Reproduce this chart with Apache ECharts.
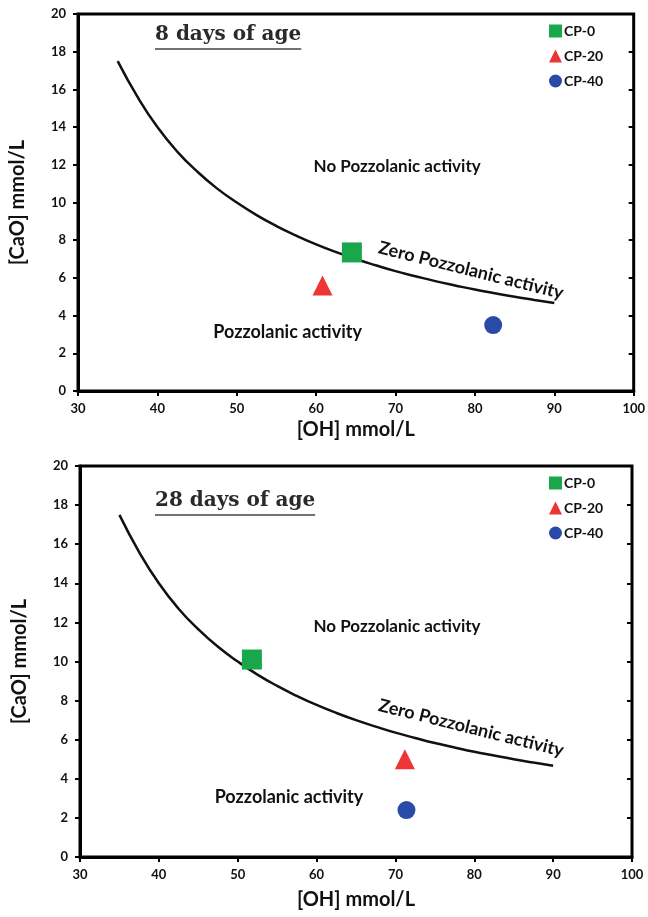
<!DOCTYPE html>
<html><head><meta charset="utf-8">
<script src="https://cdn.jsdelivr.net/npm/echarts/dist/echarts.min.js"></script>
<style>html,body{margin:0;padding:0;background:#fff}#c{width:648px;height:917px}</style>
</head><body><div id="c"></div>
<script>
// ---- data ----
const curveOH  = [35, 37.5, 40, 42.5, 45, 47.5, 50, 52.5, 55, 57.5, 60, 62.5, 65, 67.5, 70, 72.5, 75, 77.5, 80, 82.5, 85, 87.5, 90];
const curveCaO = [17.5, 15.6, 14.0, 12.7, 11.65, 10.75, 10.0, 9.33, 8.75, 8.24, 7.78, 7.37, 7.0, 6.67, 6.36, 6.09, 5.83, 5.6, 5.38, 5.19, 5.0, 4.83, 4.67];
const seriesNames = ['CP-0', 'CP-20', 'CP-40'];
const day8OH   = [64.5, 60.8, 82.3];
const day8CaO  = [7.35, 5.6, 3.5];
const day28OH  = [51.8, 71.2, 71.4];
const day28CaO = [10.1, 5.0, 2.4];
const panelTitles = ['8 days of age', '28 days of age'];
const regionLabels = ['No Pozzolanic activity', 'Zero Pozzolanic activity', 'Pozzolanic activity'];
const xMin = 30, xMax = 100, xStep = 10;
const yMin = 0, yMax = 20, yStep = 2;
const xName = '[OH] mmol/L', yName = '[CaO] mmol/L';

// ---- styles ----
const colors = ['#1aa64a', '#ee3535', '#2a4aa8'];
const symbols = ['rect', 'triangle', 'circle'];
const symbolSizes = [20, 20, 18];
const labelFont = 'Lato';
const grids = [
  {left: 78, top: 14, right: 14, height: 377},
  {left: 80, top: 466, right: 16, height: 391}
];
const nameGapsX = [29, 33];
const legendTops = [24, 476];
const regionPos = [
  [[70.2, 11.9], [79.5, 6.4], [56.4, 3.13]],
  [[70.2, 11.8], [79.6, 6.6], [56.5, 3.07]]
];
const titleY = [50, 516];
const underlineY = [49, 515];

const xAxes = [], yAxes = [], series = [], legends = [], graphics = [];
const mc = document.createElement('canvas').getContext('2d');

for (let g = 0; g < 2; g++) {
  const base = {
    type: 'value', gridIndex: g,
    splitLine: {show: false}
  };
  xAxes.push(Object.assign({}, base, {
    min: xMin, max: xMax, interval: xStep,
    name: xName, nameLocation: 'middle', nameGap: nameGapsX[g],
    nameTextStyle: {fontFamily: labelFont, fontWeight: 'bold', fontSize: 20, color: '#111'},
    axisLine: {show: true, onZero: false, lineStyle: {color: '#000', width: 3}},
    axisTick: {show: true, inside: false, length: 5, lineStyle: {color: '#000', width: 2}},
    axisLabel: {fontFamily: labelFont, fontWeight: 'bold', fontSize: 13, color: '#111', margin: 11}
  }));
  xAxes.push(Object.assign({}, base, {
    min: xMin, max: xMax, interval: xStep,
    axisLine: {show: false},
    axisTick: {show: true, inside: true, length: 5, lineStyle: {color: '#000', width: 2}},
    axisLabel: {show: false}
  }));
  yAxes.push(Object.assign({}, base, {
    min: yMin, max: yMax, interval: yStep,
    name: yName, nameLocation: 'middle', nameGap: 50,
    nameTextStyle: {fontFamily: labelFont, fontWeight: 'bold', fontSize: 20, color: '#111'},
    axisLine: {show: true, onZero: false, lineStyle: {color: '#000', width: 3}},
    axisTick: {show: true, inside: false, length: 5, lineStyle: {color: '#000', width: 2}},
    axisLabel: {fontFamily: labelFont, fontWeight: 'bold', fontSize: 13, color: '#111', margin: 12}
  }));
  yAxes.push(Object.assign({}, base, {
    min: yMin, max: yMax, interval: yStep,
    axisLine: {show: false},
    axisTick: {show: true, inside: true, length: 5, lineStyle: {color: '#000', width: 2}},
    axisLabel: {show: false}
  }));

  const labelStyle = {show: true, position: 'inside', formatter: '{b}', color: '#111',
    fontFamily: labelFont, fontWeight: 'bold', fontSize: 17};
  series.push({
    type: 'line', name: 'curve' + g, xAxisIndex: 2 * g, yAxisIndex: 2 * g,
    data: curveOH.map((x, i) => [x, curveCaO[i]]),
    smooth: true, showSymbol: false, silent: true,
    lineStyle: {color: '#111', width: 2.5}, z: 2,
    markPoint: {
      symbol: 'circle', symbolSize: 0, silent: true, label: labelStyle,
      data: regionLabels.map((t, k) => ({
        name: t, coord: regionPos[g][k],
        label: k === 1 ? {rotate: -14, fontSize: 18} : (k === 2 ? {fontSize: 18} : {})
      }))
    }
  });
  const ox = g === 0 ? day8OH : day28OH;
  const oy = g === 0 ? day8CaO : day28CaO;
  seriesNames.forEach((n, k) => {
    series.push({
      type: 'scatter', name: n, xAxisIndex: 2 * g, yAxisIndex: 2 * g,
      data: [[ox[k], oy[k]]], symbol: symbols[k], symbolSize: symbolSizes[k],
      itemStyle: {color: colors[k], opacity: 1}, z: 5
    });
  });
  legends.push({
    left: 549, top: legendTops[g], orient: 'vertical', padding: 0,
    itemWidth: 13, itemHeight: 13, itemGap: 11, selectedMode: false,
    data: seriesNames.map((n, k) => ({name: n, icon: symbols[k]})),
    textStyle: {fontFamily: labelFont, fontWeight: 'bold', fontSize: 14, color: '#111', padding: [0, 0, 0, -3]}
  });

  const tf = 'bold 20px "DejaVu Serif"';
  mc.font = tf;
  const tw = mc.measureText(panelTitles[g]).width;
  graphics.push({
    type: 'text', left: 155, top: titleY[g] - 25,
    style: {text: panelTitles[g], font: tf, fill: '#2a2a2a'}
  });
  graphics.push({
    type: 'line', shape: {x1: 155, y1: underlineY[g], x2: 155 + tw, y2: underlineY[g]},
    style: {stroke: '#444', lineWidth: 1.5}
  });
}

const chart = echarts.init(document.getElementById('c'), null, {renderer: 'canvas'});
chart.setOption({
  animation: false,
  backgroundColor: '#fff',
  grid: grids.map(gr => Object.assign({show: true, borderColor: '#000', borderWidth: 3, backgroundColor: 'transparent'}, gr)),
  xAxis: xAxes, yAxis: yAxes,
  legend: legends,
  series: series,
  graphic: graphics
});
</script></body></html>
